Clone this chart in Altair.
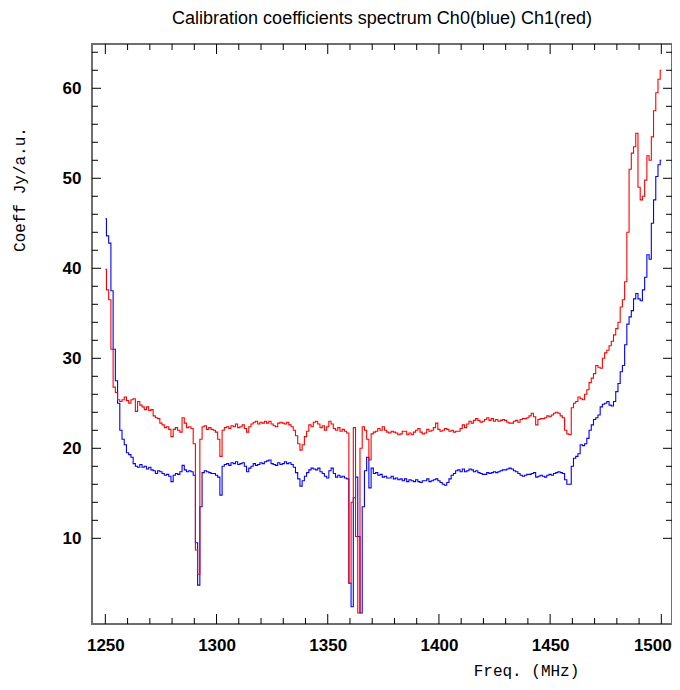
import altair as alt
import pandas as pd

# ---- data ----
freq = list(range(1250, 1501))  # MHz, 1 MHz bins

ch0 = [  # blue
    45.5, 43.6, 42.8, 37.5, 31.0, 27.5, 25.0, 22.0, 21.0, 20.4,   # 1250
    19.5, 19.3, 19.0, 18.3, 18.0, 17.9, 18.2, 17.9, 18.0, 17.7,   # 1260
    17.9, 17.6, 17.5, 17.2, 17.5, 17.4, 17.2, 17.0, 17.1, 16.9,   # 1270
    16.3, 17.0, 17.2, 17.1, 17.4, 18.1, 17.6, 17.4, 17.5, 17.4,   # 1280
    17.0, 9.5, 4.8, 13.5, 17.3, 17.5, 17.4, 17.3, 17.2, 17.2,     # 1290
    17.0, 16.8, 14.8, 18.0, 18.2, 18.3, 18.1, 18.4, 18.3, 18.5,   # 1300
    18.2, 18.3, 18.4, 18.0, 17.4, 17.8, 18.0, 18.3, 18.1, 18.2,   # 1310
    18.4, 18.3, 18.5, 18.6, 18.7, 18.3, 18.2, 18.1, 18.4, 18.2,   # 1320
    18.3, 18.5, 18.3, 18.4, 18.2, 17.9, 17.3, 16.6, 15.8, 16.4,   # 1330
    16.9, 17.3, 17.6, 17.8, 17.7, 17.6, 17.8, 17.4, 17.2, 16.9,   # 1340
    16.7, 17.5, 17.8, 17.2, 16.8, 17.0, 16.8, 16.9, 16.7, 16.6,   # 1350
    5.0, 2.4, 14.5, 16.8, 10.2, 1.7, 13.5, 17.5, 19.0, 15.6,      # 1360
    17.8, 17.2, 17.3, 17.0, 17.1, 16.8, 16.9, 16.7, 16.7, 16.9,   # 1370
    16.6, 16.7, 16.5, 16.6, 16.4, 16.6, 16.3, 16.5, 16.4, 16.3,   # 1380
    16.5, 16.3, 16.2, 16.4, 16.4, 16.6, 16.3, 16.4, 16.5, 16.6,   # 1390
    16.4, 16.2, 16.0, 15.9, 16.2, 16.6, 17.0, 17.2, 17.5, 17.6,   # 1400
    17.4, 17.7, 17.4, 17.5, 17.7, 17.6, 17.4, 17.5, 17.3, 17.2,   # 1410
    17.1, 17.1, 17.3, 17.2, 17.3, 17.4, 17.3, 17.4, 17.5, 17.6,   # 1420
    17.6, 17.7, 17.8, 17.7, 17.5, 17.4, 17.2, 17.0, 16.9, 17.0,   # 1430
    17.1, 17.1, 17.2, 17.3, 16.8, 16.9, 17.0, 16.9, 16.8, 17.0,   # 1440
    17.1, 17.0, 17.2, 17.3, 17.4, 17.3, 17.2, 16.5, 16.0, 16.0,   # 1450
    18.0, 18.9, 19.1, 19.4, 20.4, 20.3, 20.5, 21.1, 22.0, 22.6,   # 1460
    23.2, 23.4, 23.7, 24.6, 24.9, 25.0, 25.2, 24.8, 24.7, 25.2,   # 1470
    26.3, 27.2, 28.5, 29.2, 31.5, 33.8, 34.6, 35.3, 36.6, 37.2,   # 1480
    36.6, 36.4, 37.6, 39.0, 41.5, 41.0, 45.0, 47.6, 50.2, 51.5,   # 1490
    52.0,                                                         # 1500
]

ch1 = [  # red
    39.9, 37.6, 36.5, 31.0, 26.8, 26.2, 25.4, 25.2, 25.4, 25.7,   # 1250
    25.3, 25.0, 25.4, 25.5, 24.1, 25.2, 24.8, 24.6, 24.3, 24.6,   # 1260
    24.2, 24.3, 23.6, 23.4, 23.3, 22.8, 22.6, 22.3, 22.4, 22.1,   # 1270
    21.3, 22.1, 22.3, 22.0, 21.8, 23.4, 22.8, 22.3, 22.4, 22.2,   # 1280
    20.5, 8.7, 6.0, 21.0, 22.4, 22.5, 22.1, 22.3, 22.1, 22.0,     # 1290
    21.8, 21.0, 19.1, 22.0, 22.3, 22.4, 22.2, 22.5, 22.4, 22.7,   # 1300
    22.3, 22.4, 22.6, 22.2, 21.8, 22.4, 22.7, 22.9, 23.0, 22.7,   # 1310
    22.9, 22.8, 23.0, 22.8, 23.0, 22.7, 22.5, 22.4, 22.8, 22.9,   # 1320
    22.8, 22.7, 22.9, 22.6, 22.4, 22.0, 21.4, 20.5, 19.8, 20.4,   # 1330
    21.3, 21.9, 22.6, 22.4, 22.9, 23.0, 22.7, 22.3, 22.5, 22.0,   # 1340
    22.4, 23.0, 22.7, 22.2, 22.0, 22.3, 21.9, 22.1, 21.9, 21.7,   # 1350
    5.0, 14.0, 22.3, 10.2, 1.7, 20.0, 22.4, 22.0, 21.0, 18.7,     # 1360
    21.6, 21.8, 21.9, 22.2, 22.0, 22.4, 22.0, 21.8, 21.7, 21.9,   # 1370
    21.8, 21.7, 21.5, 21.6, 21.9, 21.9, 21.5, 21.7, 21.5, 21.8,   # 1380
    22.0, 22.2, 21.8, 21.6, 21.7, 22.1, 21.9, 22.0, 22.3, 22.8,   # 1390
    22.1, 21.9, 22.0, 22.2, 22.1, 21.9, 22.0, 21.8, 21.9, 21.9,   # 1400
    22.2, 22.6, 22.3, 22.7, 23.0, 22.8, 23.1, 23.3, 23.1, 22.9,   # 1410
    23.0, 23.2, 23.4, 23.1, 23.3, 23.0, 23.2, 23.0, 23.1, 23.2,   # 1420
    23.1, 22.9, 22.8, 22.8, 23.0, 23.1, 22.9, 23.2, 23.3, 23.3,   # 1430
    23.4, 23.6, 23.9, 23.5, 22.6, 23.2, 23.3, 23.3, 23.4, 23.6,   # 1440
    23.5, 23.7, 23.9, 24.0, 23.9, 23.6, 23.4, 22.0, 21.6, 21.5,   # 1450
    24.5, 25.0, 25.2, 25.7, 25.5, 25.4, 26.0, 26.5, 27.3, 27.8,   # 1460
    28.3, 29.2, 29.0, 28.9, 30.0, 30.6, 30.9, 31.4, 31.9, 32.6,   # 1470
    33.3, 34.0, 35.7, 36.5, 38.5, 44.0, 51.0, 52.8, 53.5, 55.0,   # 1480
    49.0, 47.6, 48.0, 49.8, 52.5, 52.0, 54.6, 57.5, 59.5, 61.0,   # 1490
    62.0,                                                         # 1500
]

channels = ["Ch0", "Ch1"]
colors = ["#0000ff", "#ff0000"]

x_major = [1250, 1300, 1350, 1400, 1450, 1500]
x_minor = [1260, 1270, 1280, 1290, 1310, 1320, 1330, 1340, 1360, 1370, 1380, 1390,
           1410, 1420, 1430, 1440, 1460, 1470, 1480, 1490]
y_major = [10, 20, 30, 40, 50, 60]
y_minor = [12, 14, 16, 18, 22, 24, 26, 28, 32, 34, 36, 38, 42, 44, 46, 48,
           52, 54, 56, 58, 62, 64]

# ---- build ----
df = pd.concat([
    pd.DataFrame({"freq": freq, "value": ch0, "channel": channels[0]}),
    pd.DataFrame({"freq": freq, "value": ch1, "channel": channels[1]}),
])

W, H = 580, 580
xs = alt.Scale(domain=[1244.0, 1504.8], nice=False, zero=False)
ys = alt.Scale(domain=[0.48, 64.92], nice=False, zero=False)

x_axis = alt.Axis(
    values=x_major, format="d", ticks=False, domain=False, grid=False,
    labelFont="Liberation Sans", labelFontWeight="bold", labelFontSize=17,
    labelColor="black", labelPadding=13, labelFlush=False,
    labelOffset={"condition": {"test": "datum.value == 1500", "value": -9}, "value": 0},
    title="Freq. (MHz)", titleFont="Liberation Mono", titleFontSize=16,
    titleFontWeight="normal", titleColor="black", titleX=434, titleY=51,
    titleAlign="center", titleBaseline="alphabetic")
y_axis = alt.Axis(
    values=y_major, format="d", ticks=False, domain=False, grid=False,
    labelFont="Liberation Sans", labelFontWeight="bold", labelFontSize=17,
    labelColor="black", labelPadding=11, labelFlush=False,
    title="Coeff Jy/a.u.", titleFont="Liberation Mono", titleFontSize=16,
    titleFontWeight="normal", titleColor="black", titleX=-73, titleY=145,
    titleAngle=270, titleAlign="center", titleBaseline="middle")

lines = alt.Chart(df).mark_line(interpolate="step", strokeWidth=1.1, clip=True).encode(
    x=alt.X("freq:Q", scale=xs, axis=x_axis),
    y=alt.Y("value:Q", scale=ys, axis=y_axis),
    color=alt.Color("channel:N", scale=alt.Scale(domain=channels, range=colors), legend=None),
)


def xticks(vals, y0, y1):
    return alt.Chart(pd.DataFrame({"t": vals})).mark_rule(color="black", strokeWidth=1).encode(
        x=alt.X("t:Q", scale=xs, axis=x_axis), y=alt.value(y0), y2=alt.value(y1))


def yticks(vals, x0, x1):
    return alt.Chart(pd.DataFrame({"t": vals})).mark_rule(color="black", strokeWidth=1).encode(
        y=alt.Y("t:Q", scale=ys, axis=y_axis), x=alt.value(x0), x2=alt.value(x1))


tick_layers = [
    xticks(x_major, H, H - 10), xticks(x_minor, H, H - 6),
    xticks(x_major, 0, 10), xticks(x_minor, 0, 6),
    yticks(y_major, 0, 9), yticks(y_minor, 0, 6),
    yticks(y_major, W, W - 9), yticks(y_minor, W, W - 6),
]

chart = alt.layer(lines, *tick_layers).properties(
    width=W, height=H,
    title=alt.TitleParams(
        text="Calibration coefficients spectrum Ch0(blue) Ch1(red)",
        font="Liberation Sans", fontSize=18, fontWeight="normal", color="black",
        anchor="middle", frame="group", offset=16),
    padding={"left": 84, "top": 36, "right": 0, "bottom": 57},
    autosize=alt.AutoSizeParams(type="none"),
    background="white",
).configure_view(stroke="#6e6e6e", strokeWidth=2)

chart.save("out.html", embed_options={"renderer": "svg", "actions": False})
